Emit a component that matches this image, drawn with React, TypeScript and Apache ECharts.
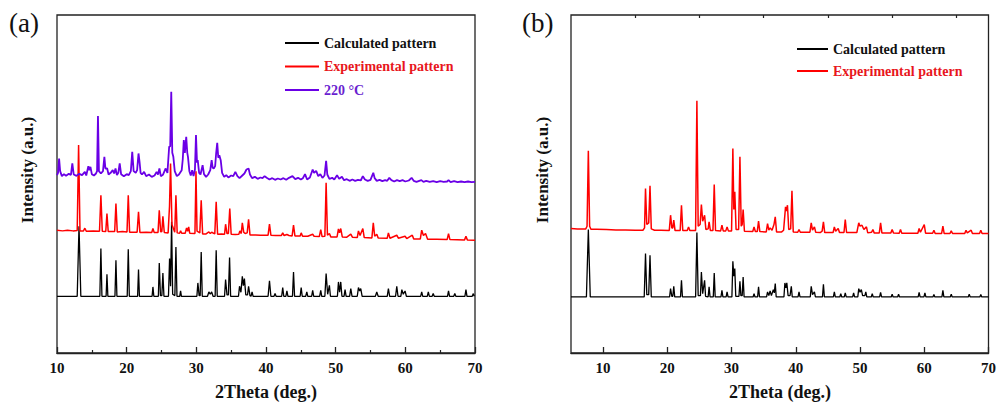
import React, { useEffect, useRef } from "react";
import * as echarts from "echarts";

// ---------- Data (2Theta in degrees, intensity in a.u.) ----------
const seriesNamesA = ["Calculated pattern", "Experimental pattern", "220 °C"];
const seriesNamesB = ["Calculated pattern", "Experimental pattern"];
const colorsA = ["#000000", "#ff0000", "#6a00e6"];
const legendTextColors = ["#111111", "#e8161c", "#6a1fd0"];

const ticksMajorB = [10, 20, 30, 40, 50, 60, 70];
const ticksMinorB = [15, 25, 35, 45, 55, 65];

// Panel (a): calculated pattern
const calcA: [number, number][] = [
  [10, 170], [12.9, 170], [13.16, 380], [13.42, 170],
  [16.15, 170], [16.3, 313], [16.45, 170],
  [17.05, 170], [17.17, 236], [17.3, 170],
  [18.32, 170], [18.46, 278], [18.6, 170],
  [20.08, 170], [20.23, 311], [20.38, 170],
  [21.57, 170], [21.7, 250], [21.83, 170],
  [23.65, 170], [23.77, 198], [23.9, 170],
  [24.55, 170], [24.68, 270], [24.85, 172], [25.05, 172], [25.2, 240], [25.35, 170],
  [26.0, 170], [26.16, 283], [26.3, 200], [26.45, 393], [26.6, 176], [26.92, 172], [27.07, 318], [27.22, 170],
  [27.62, 170], [27.74, 186], [27.86, 170],
  [30.08, 170], [30.22, 210], [30.4, 172], [30.55, 172], [30.7, 303], [30.85, 170],
  [31.6, 170], [31.8, 183], [32.0, 176], [32.2, 183], [32.4, 170],
  [32.7, 170], [32.85, 308], [33.0, 170],
  [34.05, 170], [34.2, 220], [34.4, 174], [34.6, 174], [34.77, 286], [34.92, 170],
  [36.05, 170], [36.2, 200], [36.4, 182], [36.6, 230], [36.75, 202], [36.9, 223], [37.1, 174], [37.35, 174], [37.5, 200], [37.7, 172], [37.85, 170], [38.0, 183], [38.15, 170],
  [40.3, 170], [40.5, 216], [40.7, 170],
  [41.15, 170], [41.3, 178], [41.45, 170],
  [42.25, 170], [42.4, 196], [42.55, 170], [42.85, 170], [43.0, 186], [43.15, 170],
  [43.8, 170], [43.95, 243], [44.1, 170],
  [44.9, 170], [45.05, 196], [45.2, 170],
  [45.7, 170], [45.86, 183], [46.0, 170],
  [46.55, 170], [46.7, 188], [46.85, 170],
  [47.7, 170], [47.86, 188], [48.0, 170],
  [48.45, 170], [48.63, 238], [48.85, 176], [49.1, 203], [49.25, 170],
  [50.25, 170], [50.4, 213], [50.56, 182], [50.73, 213], [50.9, 170],
  [51.2, 170], [51.35, 190], [51.5, 170],
  [52.0, 170], [52.17, 193], [52.35, 170],
  [53.1, 170], [53.27, 196], [53.45, 186], [53.6, 193], [53.8, 170],
  [55.7, 170], [55.9, 183], [56.1, 170],
  [57.4, 170], [57.57, 193], [57.75, 170],
  [58.6, 170], [58.77, 200], [58.95, 170],
  [59.35, 170], [59.5, 190], [59.7, 176], [59.96, 186], [60.15, 170],
  [62.2, 170], [62.35, 183], [62.5, 170],
  [63.15, 170], [63.3, 183], [63.45, 170],
  [63.85, 170], [64.0, 178], [64.15, 170],
  [66.05, 170], [66.2, 186], [66.35, 170],
  [66.95, 170], [67.1, 178], [67.25, 170],
  [68.55, 170], [68.7, 190], [68.85, 170],
  [69.6, 170], [69.76, 178], [69.9, 170],
  [70, 170],
];

// Panel (a): experimental pattern
const expA: [number, number][] = [
  [10, 368], [10.8, 366], [11.5, 368], [12.3, 366], [12.9, 367], [13.1, 623], [13.3, 366],
  [13.8, 366], [14.0, 374], [14.2, 365], [15.2, 366], [16.1, 365], [16.3, 473], [16.5, 365],
  [17.0, 364], [17.17, 418], [17.35, 364], [18.28, 364], [18.46, 448], [18.65, 363],
  [19.4, 364], [20.05, 363], [20.23, 473], [20.42, 362], [21.5, 362], [21.7, 423], [21.9, 361],
  [22.8, 362], [23.6, 361], [23.77, 373], [23.95, 361], [24.5, 361], [24.68, 428], [24.88, 363], [25.05, 364], [25.2, 410], [25.4, 361],
  [25.95, 360], [26.15, 440], [26.3, 568], [26.5, 385], [26.9, 362], [27.07, 473], [27.25, 360],
  [27.6, 359], [27.74, 366], [27.9, 359], [28.4, 359], [28.6, 375], [28.75, 365], [28.9, 378], [29.05, 359],
  [29.8, 358], [29.95, 545], [30.1, 365], [30.5, 360], [30.7, 458], [30.9, 357],
  [31.4, 357], [31.8, 363], [32.0, 358], [32.2, 362], [32.65, 357], [32.85, 453], [33.05, 356],
  [33.6, 357], [34.05, 356], [34.2, 386], [34.4, 358], [34.6, 358], [34.8, 433], [35.0, 356],
  [35.6, 355], [36.1, 356], [36.25, 366], [36.45, 358], [36.6, 390], [36.8, 362], [37.0, 358], [37.3, 360], [37.5, 401], [37.7, 354],
  [38.5, 354], [39.2, 353], [40.3, 353], [40.5, 386], [40.7, 353], [41.4, 352], [42.2, 352], [42.4, 360], [42.6, 352], [43.0, 355], [43.3, 352],
  [43.75, 351], [43.95, 383], [44.15, 351], [44.9, 351], [45.05, 360], [45.25, 350], [46.0, 350], [46.7, 356], [46.9, 350],
  [47.65, 349], [47.86, 370], [48.05, 349], [48.45, 350], [48.63, 510], [48.82, 353], [49.1, 358], [49.3, 348],
  [50.2, 348], [50.4, 372], [50.56, 360], [50.73, 373], [50.95, 348], [51.6, 347], [52.17, 356], [52.4, 347],
  [53.1, 346], [53.27, 366], [53.5, 352], [53.9, 373], [54.1, 346], [55.2, 345], [55.4, 390], [55.6, 350], [55.9, 356], [56.1, 345],
  [57.4, 344], [57.57, 360], [57.8, 344], [58.77, 353], [59.0, 344], [59.96, 350], [60.2, 343], [61.0, 353], [61.2, 342],
  [62.15, 342], [62.35, 368], [62.6, 352], [62.9, 358], [63.2, 341], [64.5, 341], [66.0, 340], [66.2, 358], [66.4, 340],
  [68.5, 339], [68.7, 350], [68.9, 339], [70, 338],
];

// Panel (a): 220 °C pattern
const tempA: [number, number][] = [
  [10, 533], [10.15, 540], [10.3, 583], [10.45, 545], [10.7, 530], [11.0, 536], [11.3, 531], [11.7, 537], [12.0, 534], [12.2, 568], [12.4, 535],
  [12.8, 531], [13.2, 537], [13.6, 533], [14.0, 543], [14.2, 532], [14.5, 560], [14.65, 548], [14.8, 558], [15.0, 536], [15.3, 532], [15.6, 538],
  [15.75, 545], [15.88, 710], [16.02, 545], [16.3, 538], [16.6, 545], [16.8, 588], [16.95, 553], [17.2, 553], [17.4, 535], [17.7, 540],
  [18.0, 548], [18.2, 538], [18.4, 553], [18.6, 533], [18.8, 540], [19.0, 568], [19.2, 536], [19.6, 530], [20.0, 536], [20.3, 533], [20.6, 545],
  [20.8, 603], [21.0, 545], [21.3, 540], [21.5, 548], [21.7, 598], [21.85, 573], [22.0, 540], [22.2, 535], [22.5, 543], [22.8, 530], [23.2, 535],
  [23.6, 528], [24.0, 532], [24.3, 543], [24.5, 535], [24.7, 553], [24.9, 530], [25.2, 534], [25.6, 553], [25.85, 540], [26.1, 618], [26.25, 620],
  [26.4, 783], [26.55, 600], [26.7, 588], [26.9, 545], [27.2, 530], [27.5, 535], [27.9, 548], [28.05, 580], [28.2, 638], [28.35, 600], [28.55, 648],
  [28.7, 600], [28.8, 588], [29.0, 545], [29.2, 532], [29.4, 548], [29.6, 530], [29.8, 550], [29.95, 653], [30.1, 570], [30.2, 578], [30.4, 540],
  [30.6, 535], [30.9, 563], [31.1, 536], [31.4, 528], [31.7, 535], [32.0, 548], [32.2, 578], [32.35, 555], [32.5, 553], [32.7, 560], [32.85, 600],
  [33.0, 630], [33.15, 585], [33.3, 593], [33.5, 578], [33.7, 540], [34.0, 528], [34.3, 533], [34.6, 526], [35.0, 532], [35.3, 530], [35.6, 543],
  [35.9, 530], [36.2, 524], [36.6, 532], [36.9, 538], [37.2, 550], [37.5, 553], [37.7, 535], [38.0, 524], [38.4, 528], [38.8, 522], [39.2, 526],
  [39.5, 524], [39.8, 530], [40.1, 525], [40.5, 520], [40.9, 524], [41.3, 519], [41.7, 523], [42.1, 520], [42.5, 524], [42.9, 519], [43.3, 525],
  [43.8, 530], [44.2, 521], [44.6, 525], [45.0, 520], [45.3, 524], [45.6, 536], [45.9, 520], [46.3, 526], [46.7, 550], [46.9, 540], [47.2, 546],
  [47.5, 530], [47.8, 536], [48.1, 525], [48.4, 532], [48.63, 576], [48.8, 535], [49.1, 522], [49.5, 525], [49.8, 520], [50.2, 533], [50.5, 522],
  [50.9, 528], [51.2, 518], [51.6, 521], [52.0, 516], [52.4, 520], [52.8, 516], [53.2, 519], [53.6, 517], [53.9, 530], [54.2, 520], [54.6, 516],
  [55.0, 519], [55.4, 540], [55.6, 524], [55.9, 516], [56.3, 519], [56.7, 515], [57.1, 518], [57.4, 516], [57.7, 525], [58.0, 518], [58.4, 514],
  [58.8, 518], [59.2, 515], [59.6, 518], [60.0, 514], [60.5, 517], [60.9, 525], [61.2, 516], [61.6, 513], [62.0, 516], [62.3, 518], [62.6, 513],
  [63.0, 516], [63.5, 513], [64.0, 515], [64.5, 512], [65.0, 515], [65.5, 513], [66.0, 514], [66.2, 518], [66.5, 512], [67.0, 515], [67.5, 512],
  [68.0, 514], [68.5, 512], [69.0, 514], [69.5, 512], [70, 513],
];

// Panel (b): calculated pattern
const calcB: [number, number][] = [
  [5, 168], [7.4, 168], [7.7, 370], [8.0, 168],
  [16.4, 168], [16.6, 298], [16.8, 175], [17.1, 175], [17.3, 293], [17.5, 168],
  [20.35, 168], [20.5, 193], [20.7, 170], [20.85, 170], [21.0, 200], [21.15, 168],
  [22.05, 168], [22.2, 218], [22.35, 168],
  [24.4, 168], [24.6, 361], [24.8, 172], [25.15, 172], [25.3, 243], [25.5, 178], [25.8, 218], [25.95, 170],
  [26.35, 168], [26.5, 198], [26.65, 168], [27.15, 168], [27.3, 240], [27.45, 168],
  [28.35, 168], [28.5, 188], [28.65, 168], [29.15, 168], [29.3, 183], [29.45, 168],
  [30.05, 168], [30.2, 275], [30.35, 230], [30.5, 253], [30.65, 170], [31.15, 170], [31.3, 215], [31.45, 172], [31.65, 172], [31.8, 228], [31.95, 168],
  [33.35, 168], [33.5, 178], [33.65, 168], [34.05, 168], [34.2, 198], [34.35, 168],
  [35.45, 168], [35.6, 183], [35.8, 172], [36.0, 186], [36.2, 172], [36.5, 190], [36.65, 180], [36.8, 208], [36.95, 168],
  [38.15, 168], [38.3, 210], [38.45, 195], [38.6, 210], [38.8, 172], [39.1, 172], [39.3, 200], [39.45, 168],
  [40.35, 168], [40.5, 183], [40.65, 168],
  [42.25, 168], [42.4, 200], [42.6, 175], [42.9, 183], [43.05, 168],
  [44.15, 168], [44.3, 206], [44.45, 168],
  [45.85, 168], [46.0, 183], [46.15, 168], [46.85, 168], [47.0, 178], [47.15, 168], [47.55, 168], [47.7, 180], [47.85, 168],
  [48.85, 168], [49.0, 180], [49.15, 168], [49.65, 168], [49.8, 193], [50.0, 182], [50.2, 190], [50.4, 172], [50.75, 172], [50.9, 183], [51.05, 168],
  [51.75, 168], [51.9, 178], [52.05, 168], [53.05, 168], [53.2, 182], [53.35, 168],
  [54.85, 168], [55.0, 176], [55.15, 168], [55.85, 168], [56.0, 176], [56.15, 168],
  [59.05, 168], [59.2, 182], [59.35, 168], [59.95, 168], [60.1, 180], [60.25, 168],
  [61.35, 168], [61.5, 175], [61.65, 168], [62.75, 168], [62.9, 188], [63.05, 168],
  [64.05, 168], [64.2, 176], [64.35, 168], [66.85, 168], [67.0, 176], [67.15, 168], [68.65, 168], [68.8, 175], [68.95, 168], [70, 168],
];

// Panel (b): experimental pattern
const expB: [number, number][] = [
  [5, 373], [6, 372], [7.3, 372], [7.5, 380], [7.7, 606], [7.9, 380], [8.1, 371], [9, 371], [10.5, 370], [12, 369], [13.5, 369], [15, 368], [16.2, 368],
  [16.45, 375], [16.6, 493], [16.8, 385], [17.1, 390], [17.3, 501], [17.5, 372], [18.0, 368], [19, 368], [20.3, 367],
  [20.5, 413], [20.7, 375], [20.85, 375], [21.0, 398], [21.2, 367], [22.0, 367], [22.2, 443], [22.4, 367], [23.1, 367], [23.3, 378], [23.5, 367],
  [24.4, 367], [24.6, 756], [24.8, 380], [25.1, 385], [25.3, 445], [25.5, 395], [25.8, 413], [26.0, 370], [26.35, 372], [26.5, 393], [26.7, 367],
  [27.1, 367], [27.3, 505], [27.5, 367], [28.3, 366], [28.5, 383], [28.7, 366], [29.1, 366], [29.3, 378], [29.5, 366],
  [30.0, 366], [30.2, 613], [30.35, 430], [30.5, 483], [30.7, 370], [31.1, 370], [31.3, 588], [31.5, 380], [31.65, 385], [31.8, 430], [32.0, 365],
  [33.3, 364], [33.5, 378], [33.7, 364], [34.0, 364], [34.2, 395], [34.4, 364], [35.4, 363], [35.6, 388], [35.8, 368], [36.0, 375], [36.3, 368], [36.6, 385], [36.8, 408], [37.0, 363],
  [37.8, 363], [38.1, 368], [38.4, 438], [38.55, 425], [38.7, 443], [38.9, 370], [39.2, 372], [39.4, 486], [39.6, 363],
  [40.3, 362], [40.5, 370], [40.7, 362], [41.5, 362], [42.2, 362], [42.4, 390], [42.6, 368], [42.9, 378], [43.1, 362], [43.8, 361], [44.1, 365], [44.3, 393], [44.5, 361],
  [45.8, 361], [46.0, 378], [46.2, 365], [46.6, 373], [46.8, 361], [47.5, 361], [47.7, 400], [47.9, 361],
  [49.5, 361], [49.8, 390], [50.0, 380], [50.3, 383], [50.6, 370], [51.0, 378], [51.2, 360], [51.8, 362], [52.0, 370], [52.2, 360],
  [53.0, 360], [53.2, 390], [53.4, 360], [54.8, 360], [55.0, 370], [55.2, 360], [56.1, 359], [56.3, 370], [56.5, 359],
  [59.0, 359], [59.2, 373], [59.4, 362], [60.0, 385], [60.2, 359], [61.3, 359], [61.5, 368], [61.7, 358], [62.7, 358], [62.9, 380], [63.1, 358],
  [64.0, 358], [64.2, 366], [64.4, 358], [66.3, 358], [66.5, 368], [66.7, 360], [67.3, 368], [67.5, 358], [68.6, 358], [68.8, 368], [69.0, 358], [70, 358],
];

const FONT = '"Liberation Serif", "Times New Roman", serif';
const AXIS_COLOR = "#222";

export default function App() {
  const ref = useRef<HTMLDivElement>(null);

  useEffect(() => {
    if (!ref.current) return;
    const chart = echarts.init(ref.current, undefined, { renderer: "svg" });

    const gridBase = {
      top: 15,
      width: 418,
      height: 338,
      show: true,
      borderColor: AXIS_COLOR,
      borderWidth: 1.3,
      backgroundColor: "transparent",
    };
    const labelStyle = {
      color: "#111",
      fontFamily: FONT,
      fontWeight: "bold",
      fontSize: 15,
      margin: 7,
    };
    const axisLine = { show: true, lineStyle: { color: AXIS_COLOR, width: 1.3 } };

    const lineSeries = (name: string, data: [number, number][], color: string, width: number, idx: number) => ({
      name,
      type: "line",
      xAxisIndex: idx,
      yAxisIndex: idx,
      data,
      symbol: "none",
      smooth: false,
      lineStyle: { color, width },
      itemStyle: { color },
      z: 2,
    });

    const legendBase = {
      orient: "vertical",
      icon: "rect",
      itemHeight: 2,
      padding: 0,
      selectedMode: false,
      textStyle: { fontFamily: FONT, fontWeight: "bold", fontSize: 14, lineHeight: 14 },
    };

    const option = {
      animation: false,
      grid: [
        { ...gridBase, left: 57 },
        { ...gridBase, left: 571 },
      ],
      xAxis: [
        {
          gridIndex: 0,
          type: "value",
          min: 10,
          max: 70,
          interval: 10,
          axisLine,
          axisTick: { inside: true, length: 6, lineStyle: { color: AXIS_COLOR, width: 1.3 } },
          minorTick: { show: true, splitNumber: 2, length: 3, lineStyle: { color: AXIS_COLOR, width: 1.2 } },
          axisLabel: labelStyle,
          splitLine: { show: false },
        },
        {
          gridIndex: 1,
          type: "value",
          min: 5,
          max: 70,
          axisLine,
          axisTick: { inside: true, length: 6, customValues: ticksMajorB, lineStyle: { color: AXIS_COLOR, width: 1.3 } },
          axisLabel: { ...labelStyle, customValues: ticksMajorB },
          splitLine: { show: false },
        },
        {
          gridIndex: 1,
          type: "value",
          min: 5,
          max: 70,
          axisLine: { show: false },
          axisTick: { inside: true, length: 3, customValues: ticksMinorB, lineStyle: { color: AXIS_COLOR, width: 1.2 } },
          axisLabel: { show: false },
          splitLine: { show: false },
        },
      ],
      yAxis: [0, 1].map((g) => ({
        gridIndex: g,
        type: "value",
        min: 0,
        max: 1013,
        axisLine: { show: false },
        axisTick: { show: false },
        axisLabel: { show: false },
        splitLine: { show: false },
      })),
      legend: [
        {
          ...legendBase,
          left: 285,
          top: 36,
          itemWidth: 34,
          itemGap: 9.5,
          data: seriesNamesA.map((n, i) => ({ name: n, textStyle: { color: legendTextColors[i] } })),
        },
        {
          ...legendBase,
          left: 797,
          top: 42,
          itemWidth: 31,
          itemGap: 8,
          data: seriesNamesB.map((n, i) => ({ name: n, textStyle: { color: legendTextColors[i] } })),
        },
      ],
      series: [
        lineSeries(seriesNamesA[0], calcA, colorsA[0], 1.3, 0),
        lineSeries(seriesNamesA[1], expA, colorsA[1], 1.5, 0),
        lineSeries(seriesNamesA[2], tempA, colorsA[2], 1.8, 0),
        lineSeries(seriesNamesB[0], calcB, colorsA[0], 1.3, 1),
        lineSeries(seriesNamesB[1], expB, colorsA[1], 1.5, 1),
      ],
      graphic: [
        { type: "text", left: 9, top: 9, style: { text: "(a)", font: `27px ${FONT}`, fill: "#111" } },
        { type: "text", left: 522, top: 9, style: { text: "(b)", font: `27px ${FONT}`, fill: "#111" } },
        {
          type: "text",
          x: 27,
          y: 170,
          rotation: Math.PI / 2,
          style: { text: "Intensity (a.u.)", font: `bold 17px ${FONT}`, fill: "#111", align: "center", verticalAlign: "middle" },
        },
        {
          type: "text",
          x: 542,
          y: 170,
          rotation: Math.PI / 2,
          style: { text: "Intensity (a.u.)", font: `bold 17px ${FONT}`, fill: "#111", align: "center", verticalAlign: "middle" },
        },
        {
          type: "text",
          x: 266,
          y: 392,
          style: { text: "2Theta (deg.)", font: `bold 18px ${FONT}`, fill: "#111", align: "center", verticalAlign: "middle" },
        },
        {
          type: "text",
          x: 780,
          y: 392,
          style: { text: "2Theta (deg.)", font: `bold 18px ${FONT}`, fill: "#111", align: "center", verticalAlign: "middle" },
        },
      ],
    };

    chart.setOption(option as any);
    return () => chart.dispose();
  }, []);

  return (
    <div
      ref={ref}
      style={{ position: "absolute", left: 0, top: 0, width: 999, height: 405, background: "#fff" }}
    />
  );
}
